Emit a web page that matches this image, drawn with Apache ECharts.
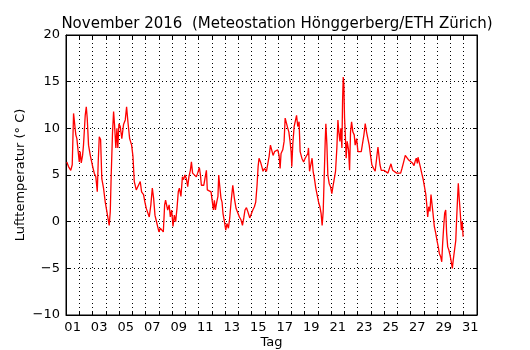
<!DOCTYPE html>
<html>
<head>
<meta charset="utf-8">
<script src="https://cdn.jsdelivr.net/npm/echarts@6/dist/echarts.min.js"></script>
<style>
html, body { margin: 0; padding: 0; background: #fff; }
#main { width: 530px; height: 350px; }
</style>
</head>
<body>
<div id="main"></div>
<script>
var dom = document.getElementById('main');
var myChart = echarts.init(dom);
var option;

// Zeit in Tagen (1.0 = 1. Nov 00:00), Temperatur in Grad C
var tage = [
    1.06, 1.19, 1.36, 1.47, 1.57, 1.66, 1.74, 1.82, 1.89, 2.00,
    2.07, 2.15, 2.25, 2.32, 2.45, 2.53, 2.60, 2.70, 2.83, 2.98,
    3.13, 3.25, 3.36, 3.43, 3.51, 3.61, 3.70, 3.83, 3.96, 4.08,
    4.19, 4.26, 4.34, 4.41, 4.51, 4.59, 4.66, 4.76, 4.84, 4.91,
    4.99, 5.09, 5.21, 5.34, 5.47, 5.57, 5.67, 5.80, 5.95, 6.05,
    6.15, 6.30, 6.45, 6.60, 6.70, 6.85, 6.95, 7.06, 7.18, 7.28,
    7.40, 7.51, 7.61, 7.71, 7.81, 7.91, 8.01, 8.11, 8.24, 8.34,
    8.44, 8.51, 8.67, 8.78, 8.87, 8.97, 9.07, 9.17, 9.27, 9.37,
    9.47, 9.55, 9.67, 9.78, 9.87, 9.97, 10.08, 10.18, 10.27, 10.38,
    10.46, 10.55, 10.68, 10.83, 10.93, 11.06, 11.14, 11.21, 11.39, 11.48,
    11.59, 11.66, 11.78, 11.94, 12.04, 12.12, 12.19, 12.27, 12.37, 12.46,
    12.52, 12.59, 12.69, 12.77, 12.84, 12.95, 13.05, 13.14, 13.25, 13.35,
    13.45, 13.58, 13.70, 13.83, 13.95, 14.08, 14.20, 14.31, 14.41, 14.50,
    14.61, 14.71, 14.86, 14.96, 15.09, 15.21, 15.31, 15.41, 15.49, 15.56,
    15.67, 15.77, 15.86, 15.97, 16.12, 16.22, 16.32, 16.42, 16.52, 16.62,
    16.73, 16.88, 16.97, 17.07, 17.15, 17.22, 17.35, 17.45, 17.53, 17.63,
    17.73, 17.81, 17.90, 17.98, 18.03, 18.11, 18.21, 18.31, 18.39, 18.48,
    18.58, 18.66, 18.79, 18.92, 19.04, 19.14, 19.24, 19.29, 19.37, 19.46,
    19.56, 19.64, 19.75, 19.84, 19.94, 20.05, 20.15, 20.24, 20.32, 20.40,
    20.47, 20.55, 20.60, 20.68, 20.75, 20.85, 20.95, 21.05, 21.15, 21.26,
    21.33, 21.43, 21.51, 21.58, 21.66, 21.73, 21.81, 21.86, 21.91, 21.96,
    22.01, 22.06, 22.13, 22.21, 22.31, 22.39, 22.46, 22.54, 22.64, 22.74,
    22.81, 22.92, 23.02, 23.14, 23.27, 23.37, 23.47, 23.57, 23.67, 23.77,
    23.87, 23.98, 24.07, 24.20, 24.32, 24.43, 24.53, 24.58, 24.68, 24.78,
    24.98, 25.13, 25.28, 25.38, 25.51, 25.64, 25.79, 25.94, 26.09, 26.24,
    26.34, 26.47, 26.59, 26.69, 26.85, 27.00, 27.15, 27.25, 27.34, 27.42,
    27.50, 27.55, 27.65, 27.72, 27.83, 27.93, 28.02, 28.13, 28.20, 28.28,
    28.36, 28.45, 28.53, 28.61, 28.68, 28.78, 28.89, 28.98, 29.08, 29.16,
    29.26, 29.34, 29.41, 29.49, 29.56, 29.64, 29.71, 29.79, 29.87, 29.97,
    30.06, 30.14, 30.21, 30.32, 30.40, 30.47, 30.55, 30.59, 30.67, 30.74,
    30.82, 30.89, 30.95
];
var temperatur = [
    6.4, 5.9, 5.5, 6.1, 11.6, 11.4, 9.3, 8.9, 7.9, 6.4,
    7.5, 6.3, 7.1, 8.2, 11.4, 12.3, 11.1, 8.2, 7.1, 6.1,
    5.2, 4.8, 3.2, 6.4, 9.1, 8.8, 4.6, 3.6, 2.1, 1.1,
    0.9, -0.4, 1.1, 5.0, 9.6, 11.8, 10.4, 7.9, 10.0, 7.9,
    10.5, 10.2, 8.9, 10.4, 10.9, 12.3, 10.7, 8.9, 8.2, 7.0,
    4.3, 3.4, 3.2, 4.3, 3.2, 2.9, 2.1, 1.4, 1.25, 0.5,
    1.8, 3.6, 2.5, 0.7, 0.1, -0.5, -1.1, -0.7, -0.5, -1.1,
    1.8, 2.3, 1.25, 1.8, 0.5, 1.25, -0.5, 0.7, 0.0, 1.4,
    3.2, 3.6, 2.7, 4.8, 4.5, 5.0, 4.6, 3.75, 4.8, 5.5,
    6.4, 5.2, 5.0, 4.8, 5.2, 5.8, 5.0, 3.9, 3.9, 4.1,
    5.5, 3.4, 3.2, 3.2, 2.1, 1.25, 2.3, 1.25, 2.1, 2.7,
    5.0, 3.9, 2.5, 2.1, 0.9, 0.0, -0.9, -0.2, -0.7, 0.4,
    2.1, 3.9, 2.5, 1.4, 1.25, 0.5, 0.2, -0.4, 0.4, 1.25,
    1.5, 1.1, 0.4, 0.5, 1.25, 1.6, 2.1, 3.9, 5.9, 6.8,
    6.4, 5.9, 5.4, 5.7, 5.4, 5.5, 7.0, 8.2, 8.0, 7.1,
    7.5, 7.4, 7.7, 7.1, 5.7, 7.3, 7.7, 8.6, 11.1, 11.25,
    10.0, 9.6, 8.6, 7.5, 5.9, 8.4, 10.2, 10.2, 11.4, 10.2,
    10.7, 7.5, 6.8, 6.4, 6.8, 6.6, 7.3, 7.9, 5.4, 5.2,
    6.8, 5.4, 4.5, 3.6, 2.9, 2.1, 1.6, 0.9, -0.4, 1.1,
    4.6, 8.6, 10.5, 8.2, 5.0, 4.1, 3.75, 3.0, 3.9, 4.1,
    5.4, 7.9, 10.9, 9.6, 8.6, 10.0, 7.9, 12.9, 15.5, 14.6,
    11.1, 9.6, 6.8, 8.6, 7.7, 5.5, 9.6, 10.7, 9.6, 9.3,
    8.2, 8.9, 7.5, 7.3, 7.5, 7.3, 9.3, 10.5, 9.6, 9.6,
    8.2, 7.0, 6.1, 5.7, 5.4, 6.8, 8.0, 8.2, 6.1, 5.5,
    5.5, 5.4, 5.2, 5.4, 6.2, 5.5, 5.4, 5.2, 5.3, 5.2,
    5.7, 6.4, 7.1, 7.0, 6.6, 6.4, 6.25, 6.0, 6.5, 6.8,
    6.25, 6.9, 6.8, 5.9, 5.2, 4.6, 3.9, 3.0, 2.0, 0.5,
    1.6, 1.1, 2.9, 2.7, 0.9, -0.5, -1.25, -2.0, -2.7, -3.4,
    -3.75, -4.3, -2.3, -0.5, 0.9, 1.25, -1.25, -2.7, -3.0, -3.6,
    -4.3, -5.0, -4.1, -3.9, -2.0, 0.5, 3.0, 4.1, 2.3, 0.9,
    -0.9, 0.0, -1.6
];

// Beschriftung der Tage (jeweils in der Tagesmitte)
var tagLabels = ['01', '03', '05', '07', '09', '11', '13', '15',
    '17', '19', '21', '23', '25', '27', '29', '31'];
var tagLabelPos = tagLabels.map(function (t) { return parseInt(t, 10) + 0.5; });

var daten = tage.map(function (t, i) { return [t, temperatur[i]]; });

var schrift = 'DejaVu Sans';
var dotted = { type: [1, 3], color: '#000', width: 1 };

option = {
    animation: false,
    backgroundColor: '#fff',
    title: {
        text: 'November 2016  (Meteostation H\u00f6nggerberg/ETH Z\u00fcrich)',
        left: 272,
        top: 12,
        textAlign: 'center',
        textStyle: { fontFamily: schrift, fontSize: 15, fontWeight: 'normal', color: '#000' }
    },
    grid: {
        left: 66, right: 53, top: 35, bottom: 35,
        outerBoundsMode: 'none',
        containLabel: false,
        show: true, borderColor: '#000', borderWidth: 1
    },
    xAxis: [{
        type: 'value', min: 1, max: 32, interval: 1,
        name: 'Tag', nameLocation: 'middle', nameGap: 21, nameMoveOverlap: false,
        nameTextStyle: { fontFamily: schrift, fontSize: 13, color: '#000' },
        axisLine: { onZero: false, lineStyle: { color: '#000' } },
        axisTick: { inside: true, length: 4, lineStyle: { color: '#000' } },
        axisLabel: {
            customValues: tagLabelPos,
            formatter: function (v) {
                var d = Math.round(v - 0.5);
                return d < 10 ? '0' + d : '' + d;
            },
            fontFamily: schrift, fontSize: 13, color: '#000', margin: 6
        },
        splitLine: { show: true, lineStyle: dotted }
    }, {
        type: 'value', position: 'top', min: 1, max: 32, interval: 1,
        axisLine: { onZero: false, lineStyle: { color: '#000' } },
        axisTick: { inside: true, length: 4, lineStyle: { color: '#000' } },
        axisLabel: { show: false },
        splitLine: { show: false }
    }],
    yAxis: [{
        type: 'value', min: -10, max: 20, interval: 5,
        name: 'Lufttemperatur (\u00b0 C)', nameLocation: 'middle', nameGap: 39, nameMoveOverlap: false,
        nameTextStyle: { fontFamily: schrift, fontSize: 13, color: '#000' },
        axisLine: { show: true, onZero: false, lineStyle: { color: '#000' } },
        axisTick: { inside: true, length: 4, lineStyle: { color: '#000' } },
        axisLabel: {
            formatter: function (v) { return ('' + v).replace('-', '\u2212'); },
            fontFamily: schrift, fontSize: 13, color: '#000', margin: 6
        },
        splitLine: { show: true, lineStyle: dotted }
    }, {
        type: 'value', position: 'right', min: -10, max: 20, interval: 5,
        axisLine: { show: true, onZero: false, lineStyle: { color: '#000' } },
        axisTick: { inside: true, length: 4, lineStyle: { color: '#000' } },
        axisLabel: { show: false },
        splitLine: { show: false }
    }],
    series: [{
        type: 'line',
        data: daten,
        showSymbol: false,
        symbol: 'none',
        lineStyle: { color: '#ff0000', width: 1.3 },
        itemStyle: { color: '#ff0000' }
    }]
};

myChart.setOption(option);
</script>
</body>
</html>
